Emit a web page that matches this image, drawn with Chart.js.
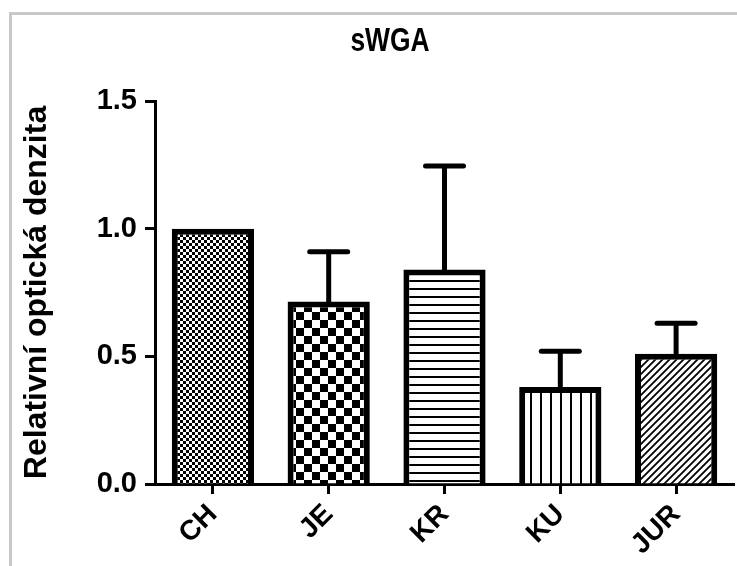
<!DOCTYPE html>
<html>
<head>
<meta charset="utf-8">
<script src="https://cdn.jsdelivr.net/npm/chart.js@4.4.0/dist/chart.umd.min.js"></script>
<style>
  html, body { margin: 0; padding: 0; background: #fff; }
  canvas { display: block; }
</style>
</head>
<body>
<canvas id="chart" width="737" height="566"></canvas>
<script>
// data
const categories = ['CH', 'JE', 'KR', 'KU', 'JUR'];
const means = [1.0, 0.715, 0.84, 0.38, 0.51];
const errUp = [0, 0.195, 0.405, 0.14, 0.12];
const patternKinds = ['fineCheck', 'coarseCheck', 'hLines', 'vLines', 'diag'];
const chartTitle = 'sWGA';
const yTitle = 'Relativní optická denzita';

const FONT = "'Liberation Sans', Arial, sans-serif";

// small canvas tiles used as fill patterns
function makePattern(kind) {
  const c = document.createElement('canvas');
  const g = c.getContext('2d');
  let s;
  if (kind === 'fineCheck') {
    s = 6; c.width = s; c.height = s;
    g.fillStyle = '#fff'; g.fillRect(0, 0, s, s);
    g.fillStyle = '#000';
    g.fillRect(0, 0, 3, 3); g.fillRect(3, 3, 3, 3);
  } else if (kind === 'coarseCheck') {
    s = 16; c.width = s; c.height = s;
    g.fillStyle = '#fff'; g.fillRect(0, 0, s, s);
    g.fillStyle = '#000';
    g.fillRect(0, 0, 8, 8); g.fillRect(8, 8, 8, 8);
  } else if (kind === 'hLines') {
    s = 8; c.width = s; c.height = s;
    g.fillStyle = '#fff'; g.fillRect(0, 0, s, s);
    g.fillStyle = '#000'; g.fillRect(0, 0, s, 2);
  } else if (kind === 'vLines') {
    s = 10; c.width = s; c.height = s;
    g.fillStyle = '#fff'; g.fillRect(0, 0, s, s);
    g.fillStyle = '#000'; g.fillRect(0, 0, 2, s);
  } else {
    s = 7; c.width = s; c.height = s;
    g.fillStyle = '#fff'; g.fillRect(0, 0, s, s);
    g.strokeStyle = '#000'; g.lineWidth = 1.8;
    g.beginPath();
    g.moveTo(-1, s + 1); g.lineTo(s + 1, -1);
    g.moveTo(-1, 1); g.lineTo(1, -1);
    g.moveTo(s - 1, s + 1); g.lineTo(s + 1, s - 1);
    g.stroke();
  }
  return g.createPattern(c, 'repeat');
}

// grey frame round the picture
const framePlugin = {
  id: 'frame',
  beforeDraw(chart) {
    const ctx = chart.ctx;
    ctx.save();
    ctx.fillStyle = '#fff';
    ctx.fillRect(0, 0, chart.width, chart.height);
    ctx.strokeStyle = '#c8c8c8';
    ctx.lineWidth = 3;
    ctx.beginPath();
    ctx.moveTo(10.5, chart.height);
    ctx.lineTo(10.5, 13.5);
    ctx.lineTo(chart.width, 13.5);
    ctx.stroke();
    ctx.restore();
  }
};

// condensed bold title, like the original export
const narrowTitle = {
  id: 'narrowTitle',
  afterDraw(chart) {
    const ctx = chart.ctx;
    ctx.save();
    ctx.fillStyle = '#000';
    ctx.font = 'bold 33px ' + FONT;
    ctx.textAlign = 'center';
    ctx.textBaseline = 'middle';
    ctx.translate(390, 42);
    ctx.scale(0.8, 1);
    ctx.fillText(chartTitle, 0, 0);
    ctx.restore();
  }
};

// one-sided (upper) error bars
const errorBarPlugin = {
  id: 'errorBars',
  afterDatasetsDraw(chart) {
    const ctx = chart.ctx;
    const y = chart.scales.y;
    const meta = chart.getDatasetMeta(0);
    ctx.save();
    ctx.strokeStyle = '#000';
    ctx.lineWidth = 5;
    meta.data.forEach((bar, i) => {
      if (!errUp[i]) return;
      const yTop = y.getPixelForValue(means[i] + errUp[i]);
      ctx.lineCap = 'butt';
      ctx.beginPath();
      ctx.moveTo(bar.x, bar.y + 3);
      ctx.lineTo(bar.x, yTop);
      ctx.stroke();
      ctx.lineCap = 'round';
      ctx.beginPath();
      ctx.moveTo(bar.x - 19, yTop);
      ctx.lineTo(bar.x + 19, yTop);
      ctx.stroke();
    });
    ctx.restore();
  }
};

const ctx = document.getElementById('chart').getContext('2d');
const myChart = new Chart(ctx, {
  type: 'bar',
  data: {
    labels: categories,
    datasets: [{
      data: means,
      backgroundColor: patternKinds.map(makePattern),
      borderColor: '#000',
      borderWidth: 6,
      borderSkipped: 'start',
      categoryPercentage: 1,
      barPercentage: 0.71
    }]
  },
  options: {
    responsive: false,
    animation: false,
    devicePixelRatio: 1,
    layout: { padding: { left: 10, right: 3, top: 101, bottom: 0 } },
    plugins: {
      legend: { display: false },
      tooltip: { enabled: false },
      title: { display: false }
    },
    scales: {
      x: {
        offset: true,
        grid: {
          display: true, drawOnChartArea: false, drawTicks: true, offset: false,
          tickLength: 10, tickWidth: 3, tickColor: '#000'
        },
        border: { display: true, color: '#000', width: 3 },
        ticks: {
          color: '#000', minRotation: 45, maxRotation: 45, padding: 4,
          font: { family: FONT, size: 28, weight: 'bold' }
        },
        afterFit(scale) { scale.height = 82; }
      },
      y: {
        min: 0, max: 1.5,
        grid: {
          display: true, drawOnChartArea: false, drawTicks: true,
          tickLength: 10, tickWidth: 3, tickColor: '#000'
        },
        border: { display: true, color: '#000', width: 3 },
        ticks: {
          stepSize: 0.5, color: '#000', padding: 8,
          callback: v => v.toFixed(1),
          font: { family: FONT, size: 29, weight: 'bold' }
        },
        title: {
          display: true,
          text: yTitle,
          color: '#000',
          font: { family: FONT, size: 32, weight: 'bold', lineHeight: 1.2 },
          padding: { top: 8, bottom: 0 }
        },
        afterFit(scale) { scale.width = 145; }
      }
    }
  },
  plugins: [framePlugin, narrowTitle, errorBarPlugin]
});
</script>
</body>
</html>
